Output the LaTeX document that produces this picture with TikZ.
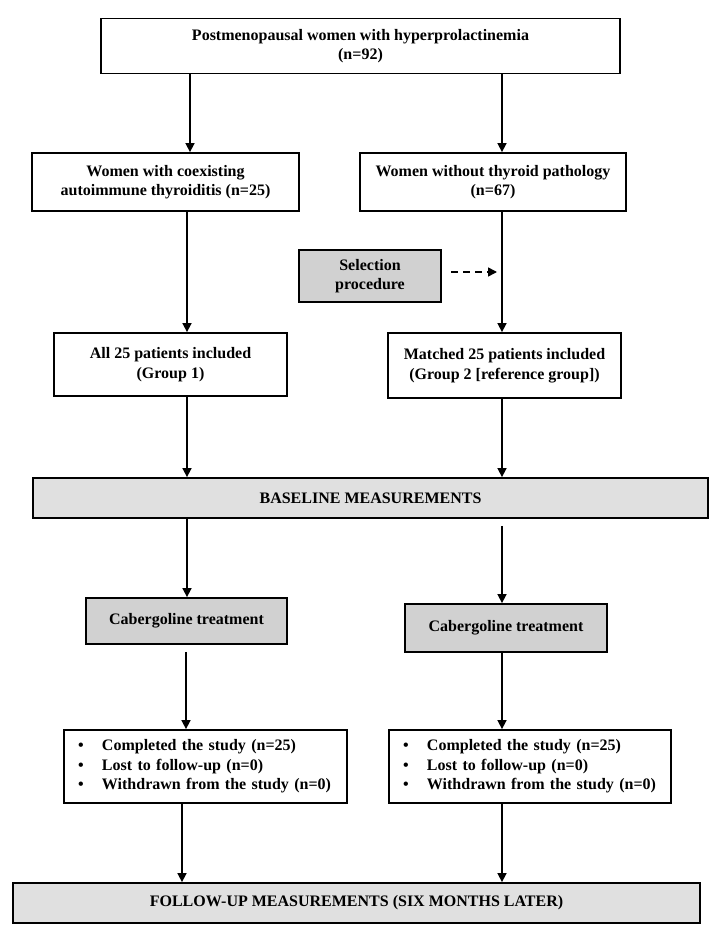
\documentclass[tikz,border=0pt]{standalone}
\usepackage{fontspec}
\setmainfont{Liberation Serif}
\usetikzlibrary{arrows.meta}
\definecolor{boxgray}{gray}{0.82}
\definecolor{bargray}{gray}{0.88}
\begin{document}
\begin{tikzpicture}[x=1pt,y=-1pt,
  every node/.style={font=\fontsize{16}{19.5}\selectfont\bfseries},
  whitebox/.style={draw=black,line width=1.8pt,fill=white,rectangle,inner sep=0pt,align=center},
  graybox/.style={whitebox,fill=boxgray},
  barbox/.style={whitebox,fill=bargray},
  listbox/.style={draw=black,line width=1.8pt,fill=white,rectangle,inner xsep=14pt,inner ysep=0pt,align=left},
  arr/.style={line width=1.6pt,-{Triangle[length=9pt,width=9pt]}},
  darr/.style={arr,dash pattern=on 7pt off 5pt}]
\useasboundingbox (0,0) rectangle (721,939);
\fill[white] (0,0) rectangle (721,939);

\node[whitebox,minimum width=519pt,minimum height=55pt] (top) at (360.5,46)
  {Postmenopausal women with hyperprolactinemia\\(n=92)};
\node[whitebox,minimum width=267pt,minimum height=58pt] (L2) at (165.5,182)
  {Women with coexisting\\autoimmune thyroiditis (n=25)};
\node[whitebox,minimum width=266pt,minimum height=58pt] (R2) at (493,182)
  {Women without thyroid pathology\\(n=67)};
\node[graybox,minimum width=142pt,minimum height=52pt] (sel) at (370,276)
  {Selection\\procedure};
\node[whitebox,minimum width=233pt,minimum height=63pt] (G1) at (170.5,364.5)
  {All 25 patients included\\(Group 1)};
\node[whitebox,minimum width=233pt,minimum height=65pt] (G2) at (504.5,365.5)
  {Matched 25 patients included\\(Group 2 [reference group])};
\node[barbox,minimum width=675pt,minimum height=40pt] (base) at (370.5,498)
  {BASELINE MEASUREMENTS};
\node[graybox,minimum width=201pt,minimum height=46pt] (cabL) at (186.5,621)
  {Cabergoline treatment};
\node[graybox,minimum width=202pt,minimum height=48pt] (cabR) at (506,628)
  {Cabergoline treatment};
\node[listbox,text width=255pt,minimum height=73pt] (bulL) at (205.5,766.5)
  {\makebox[24pt][l]{\textbullet}Completed the study (n=25)\\
   \makebox[24pt][l]{\textbullet}Lost to follow-up (n=0)\\
   \makebox[24pt][l]{\textbullet}Withdrawn from the study (n=0)};
\node[listbox,text width=254pt,minimum height=73pt] (bulR) at (530,766.5)
  {\makebox[24pt][l]{\textbullet}Completed the study (n=25)\\
   \makebox[24pt][l]{\textbullet}Lost to follow-up (n=0)\\
   \makebox[24pt][l]{\textbullet}Withdrawn from the study (n=0)};
\node[barbox,minimum width=687pt,minimum height=40pt] (fu) at (356.5,903)
  {FOLLOW-UP MEASUREMENTS (SIX MONTHS LATER)};

\coordinate (xa) at (190,0);
\coordinate (xb) at (502,0);
\coordinate (xc) at (187,0);
\coordinate (xd) at (186,0);
\coordinate (xe) at (182,0);
\coordinate (ds) at (451,272);
\coordinate (de) at (497,272);

\draw[arr] (top.south -| xa) -- (L2.north -| xa);
\draw[arr] (top.south -| xb) -- (R2.north -| xb);
\draw[arr] (L2.south -| xc) -- (G1.north -| xc);
\draw[arr] (R2.south -| xb) -- (G2.north -| xb);
\draw[darr] (ds) -- (de);
\draw[arr] (G1.south -| xc) -- (base.north -| xc);
\draw[arr] (G2.south -| xb) -- (base.north -| xb);
\draw[arr] (base.south -| xc) -- (cabL.north -| xc);
\draw[arr,shorten <=7pt] (base.south -| xb) -- (cabR.north -| xb);
\draw[arr,shorten <=7pt] (cabL.south -| xd) -- (bulL.north -| xd);
\draw[arr] (cabR.south -| xb) -- (bulR.north -| xb);
\draw[arr] (bulL.south -| xe) -- (fu.north -| xe);
\draw[arr] (bulR.south -| xb) -- (fu.north -| xb);
\end{tikzpicture}
\end{document}
